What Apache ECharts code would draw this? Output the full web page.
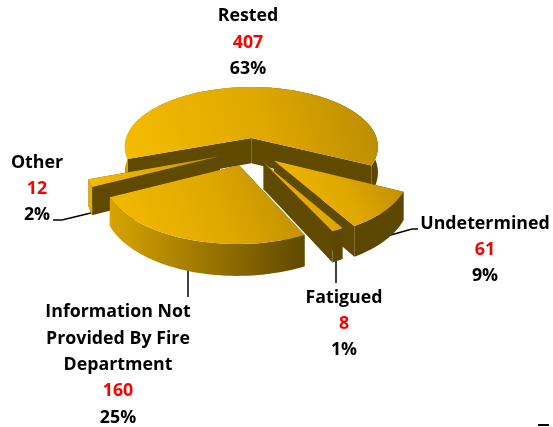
<!DOCTYPE html>
<html>
<head>
<meta charset="utf-8">
<style>
  html, body { margin: 0; padding: 0; background: #fff; }
  #chart { width: 553px; height: 427px; }
</style>
<script src="https://cdn.jsdelivr.net/npm/echarts@6/dist/echarts.min.js"></script>
</head>
<body>
<div id="chart"></div>
<script>
const categories = ['Rested', 'Undetermined', 'Fatigued', 'Information Not\nProvided By Fire\nDepartment', 'Other']
const values = [407, 61, 8, 160, 12]
const explode = [0.2, 0.25, 0.22, 0.25, 0.25]
const drawOrder = [0, 2, 3, 4, 1] // painter order per slice, Other goes behind Information

const labelPos = [[248, 42.5], [485, 250], [344, 324], [118, 365], [37, 189]]
const leaders = [
  null,
  [[380, 238], [412, 229], [418, 229]],
  [[336, 255], [336, 283]],
  [[188, 262], [188, 297]],
  [[53, 220], [62, 220], [95, 212]]
]

// fake 3d: tilted disc with a little perspective
const CX = 250, CY = 150, R = 129, TILT = 0.48, PERSP = 0.15, DEPTH = 26
const START = -110
const total = values.reduce((a, b) => a + b, 0)

const toRad = (d) => d * Math.PI / 180
// clockwise from north, unit disc
const dir = (deg) => [Math.sin(toRad(deg)), Math.cos(toRad(deg))]
function project(p, down) {
  const w = 1 + PERSP * p[1]
  return [CX + R * p[0] / w, CY - R * TILT * p[1] / w + (down ? DEPTH / w : 0)]
}

const rimColor = new echarts.graphic.LinearGradient(85, 0, 310, 0, [
  { offset: 0, color: '#e8b000' },
  { offset: 0.55, color: '#9a7500' },
  { offset: 1, color: '#5c4700' }
], true)
const topColor = new echarts.graphic.LinearGradient(0, 1, 1, 0, [
  { offset: 0, color: '#f5bc00' },
  { offset: 0.55, color: '#dfa800' },
  { offset: 1, color: '#b88a00' }
])
const FACE = '#5f4a00'

function renderSlice(params, api) {
  const i = params.dataIndex
  const before = values.slice(0, i).reduce((a, b) => a + b, 0)
  const a0 = START + before / total * 360
  const a1 = a0 + api.value(1) / total * 360
  const mid = dir((a0 + a1) / 2)
  const apex = [mid[0] * explode[i], mid[1] * explode[i]]
  const arc = []
  const steps = Math.max(2, Math.ceil((a1 - a0) / 2))
  for (let s = 0; s <= steps; s++) {
    const d = dir(a0 + (a1 - a0) * s / steps)
    arc.push([apex[0] + d[0], apex[1] + d[1]])
  }
  const top = arc.map((p) => project(p, false))
  const bottom = arc.map((p) => project(p, true))
  const apexTop = project(apex, false)
  const apexBottom = project(apex, true)
  const z2 = drawOrder[i]
  const poly = (points, fill) => ({
    type: 'polygon',
    z2,
    shape: { points },
    style: { fill, stroke: null }
  })
  return {
    type: 'group',
    children: [
      poly([apexTop, top[0], bottom[0], apexBottom], FACE),
      poly([apexTop, top[steps], bottom[steps], apexBottom], FACE),
      poly(top.concat(bottom.slice().reverse()), rimColor),
      poly([apexTop].concat(top), topColor)
    ]
  }
}

function renderLabel(params, api) {
  const i = params.dataIndex
  const pct = Math.round(api.value(1) / total * 100) + '%'
  const lines = categories[i].split('\n').map((l) => '{n|' + l + '}')
  return {
    type: 'text',
    z2: 20,
    style: {
      x: labelPos[i][0],
      y: labelPos[i][1],
      align: 'center',
      verticalAlign: 'middle',
      text: lines.concat(['{v|' + api.value(1) + '}', '{n|' + pct + '}']).join('\n'),
      rich: {
        n: { fontFamily: 'Open Sans', fontWeight: 700, fontSize: 17.8, lineHeight: 26.3, fill: '#000' },
        v: { fontFamily: 'Open Sans', fontWeight: 700, fontSize: 17.8, lineHeight: 26.3, fill: '#ff0000' }
      }
    }
  }
}

function renderLeader(params) {
  const pts = leaders[params.dataIndex]
  if (!pts) return null
  return {
    type: 'polyline',
    shape: { points: pts },
    style: { stroke: '#000', lineWidth: 1.5, fill: null }
  }
}

const rows = categories.map((c, i) => [c, values[i]])
const chart = echarts.init(document.getElementById('chart'), null, { renderer: 'canvas' })
chart.setOption({
  animation: false,
  backgroundColor: '#fff',
  series: [
    { type: 'custom', coordinateSystem: 'none', z: 1, data: rows, renderItem: renderLeader, silent: true },
    { type: 'custom', coordinateSystem: 'none', z: 2, data: rows, renderItem: renderSlice, silent: true },
    { type: 'custom', coordinateSystem: 'none', z: 3, data: rows, renderItem: renderLabel, silent: true }
  ],
  graphic: [
    { type: 'rect', shape: { x: 538, y: 424, width: 11, height: 2 }, style: { fill: '#000' } }
  ]
})
</script>
</body>
</html>
